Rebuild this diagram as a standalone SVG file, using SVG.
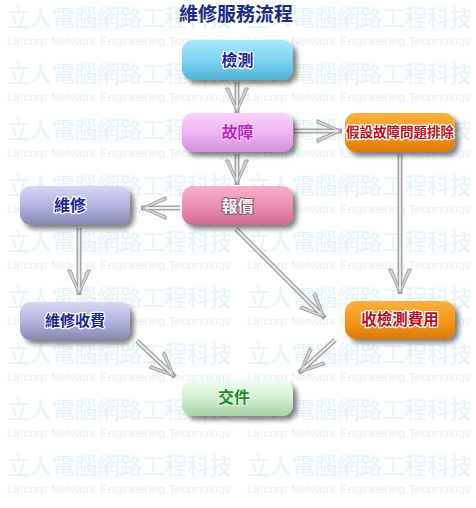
<svg xmlns="http://www.w3.org/2000/svg" width="476" height="508" viewBox="0 0 476 508">
<defs>
<style>
.wz{font-family:"Noto Sans CJK TC","Noto Sans CJK SC",sans-serif;font-size:22.5px;fill:#e4f3f9}
.we{font-family:"Liberation Sans",Arial,sans-serif;font-size:11.5px;fill:#e6eff3}
.title{font-family:"Noto Sans CJK TC","Noto Sans CJK SC",sans-serif;font-size:19px;font-weight:bold;fill:#1c2a82}
.box{filter:url(#sh)}
.lb{font-family:"Noto Sans CJK TC","Noto Sans CJK SC",sans-serif;font-size:16px;font-weight:bold;text-anchor:middle;paint-order:stroke;stroke-width:2.5px;stroke-linejoin:round}
.navy{fill:#1e2590;stroke:#ffffff}
.red{fill:#b81020;stroke:#ffffff}
.mag{fill:#c21ec8;stroke:#fbe6fb;stroke-width:1.5px}
.wht{fill:#fff4f8;stroke:#7a5866;stroke-width:2px}
.grn{fill:#1f8a2a;stroke:#f4fff4;stroke-width:1.5px}
.sa{fill:none;stroke:#a6a6a6;stroke-width:5;marker-end:url(#ah)}
.sb{fill:none;stroke:#efefef;stroke-width:1.8}
</style>
<filter id="sh" x="-20%" y="-30%" width="150%" height="180%">
<feDropShadow dx="4" dy="4" stdDeviation="2.5" flood-color="#000" flood-opacity="0.5"/>
</filter>
<linearGradient id="gCyan" x1="0" y1="0" x2="0" y2="1">
<stop offset="0" stop-color="#a8e8fb"/><stop offset="0.5" stop-color="#7fd3f1"/><stop offset="1" stop-color="#4fb2d6"/>
</linearGradient>
<linearGradient id="gViolet" x1="0" y1="0" x2="0" y2="1">
<stop offset="0" stop-color="#fbd0fb"/><stop offset="0.5" stop-color="#f0b4f4"/><stop offset="1" stop-color="#d48ee0"/>
</linearGradient>
<linearGradient id="gOrange" x1="0" y1="0" x2="0" y2="1">
<stop offset="0" stop-color="#fbb040"/><stop offset="0.5" stop-color="#f59a1c"/><stop offset="1" stop-color="#dc7a06"/>
</linearGradient>
<linearGradient id="gLav" x1="0" y1="0" x2="0" y2="1">
<stop offset="0" stop-color="#d6d6f4"/><stop offset="0.5" stop-color="#b4b4e0"/><stop offset="1" stop-color="#8686b4"/>
</linearGradient>
<linearGradient id="gPink" x1="0" y1="0" x2="0" y2="1">
<stop offset="0" stop-color="#f6b0cc"/><stop offset="0.5" stop-color="#ec90b4"/><stop offset="1" stop-color="#cf6890"/>
</linearGradient>
<linearGradient id="gGreen" x1="0" y1="0" x2="0" y2="1">
<stop offset="0" stop-color="#f2fcf2"/><stop offset="0.5" stop-color="#d4f0d4"/><stop offset="1" stop-color="#a4d4a4"/>
</linearGradient>
<marker id="ah" markerUnits="userSpaceOnUse" viewBox="-27 -13 29 26" refX="0" refY="0" markerWidth="29" markerHeight="26" orient="auto">
<path d="M0,0 L-25,-11.5 L-25,-8 L-5,0 L-25,8 L-25,11.5 Z" fill="#d6d6d6" stroke="#8e8e8e" stroke-width="0.8" stroke-linejoin="round"/>
</marker>
</defs>
<rect width="476" height="508" fill="#ffffff"/>
<g id="watermark">
<g id="wm-zh">
<text class="wz" x="7" y="26">立人電腦網路工程科技</text><text class="wz" x="247" y="26">立人電腦網路工程科技</text>
<text class="wz" x="7" y="82">立人電腦網路工程科技</text><text class="wz" x="247" y="82">立人電腦網路工程科技</text>
<text class="wz" x="7" y="138">立人電腦網路工程科技</text><text class="wz" x="247" y="138">立人電腦網路工程科技</text>
<text class="wz" x="7" y="194">立人電腦網路工程科技</text><text class="wz" x="247" y="194">立人電腦網路工程科技</text>
<text class="wz" x="7" y="250">立人電腦網路工程科技</text><text class="wz" x="247" y="250">立人電腦網路工程科技</text>
<text class="wz" x="7" y="306">立人電腦網路工程科技</text><text class="wz" x="247" y="306">立人電腦網路工程科技</text>
<text class="wz" x="7" y="362">立人電腦網路工程科技</text><text class="wz" x="247" y="362">立人電腦網路工程科技</text>
<text class="wz" x="7" y="418">立人電腦網路工程科技</text><text class="wz" x="247" y="418">立人電腦網路工程科技</text>
<text class="wz" x="7" y="474">立人電腦網路工程科技</text><text class="wz" x="247" y="474">立人電腦網路工程科技</text>
</g>
<g id="wm-en">
<text class="we" x="7" y="45" textLength="224" lengthAdjust="spacingAndGlyphs">Lir.corp Network Engineering Technology</text><text class="we" x="247" y="45" textLength="224" lengthAdjust="spacingAndGlyphs">Lir.corp Network Engineering Technology</text>
<text class="we" x="7" y="101" textLength="224" lengthAdjust="spacingAndGlyphs">Lir.corp Network Engineering Technology</text><text class="we" x="247" y="101" textLength="224" lengthAdjust="spacingAndGlyphs">Lir.corp Network Engineering Technology</text>
<text class="we" x="7" y="157" textLength="224" lengthAdjust="spacingAndGlyphs">Lir.corp Network Engineering Technology</text><text class="we" x="247" y="157" textLength="224" lengthAdjust="spacingAndGlyphs">Lir.corp Network Engineering Technology</text>
<text class="we" x="7" y="213" textLength="224" lengthAdjust="spacingAndGlyphs">Lir.corp Network Engineering Technology</text><text class="we" x="247" y="213" textLength="224" lengthAdjust="spacingAndGlyphs">Lir.corp Network Engineering Technology</text>
<text class="we" x="7" y="269" textLength="224" lengthAdjust="spacingAndGlyphs">Lir.corp Network Engineering Technology</text><text class="we" x="247" y="269" textLength="224" lengthAdjust="spacingAndGlyphs">Lir.corp Network Engineering Technology</text>
<text class="we" x="7" y="325" textLength="224" lengthAdjust="spacingAndGlyphs">Lir.corp Network Engineering Technology</text><text class="we" x="247" y="325" textLength="224" lengthAdjust="spacingAndGlyphs">Lir.corp Network Engineering Technology</text>
<text class="we" x="7" y="381" textLength="224" lengthAdjust="spacingAndGlyphs">Lir.corp Network Engineering Technology</text><text class="we" x="247" y="381" textLength="224" lengthAdjust="spacingAndGlyphs">Lir.corp Network Engineering Technology</text>
<text class="we" x="7" y="437" textLength="224" lengthAdjust="spacingAndGlyphs">Lir.corp Network Engineering Technology</text><text class="we" x="247" y="437" textLength="224" lengthAdjust="spacingAndGlyphs">Lir.corp Network Engineering Technology</text>
<text class="we" x="7" y="493" textLength="224" lengthAdjust="spacingAndGlyphs">Lir.corp Network Engineering Technology</text><text class="we" x="247" y="493" textLength="224" lengthAdjust="spacingAndGlyphs">Lir.corp Network Engineering Technology</text>
</g>
</g>
<text class="title" x="236" y="21" text-anchor="middle">維修服務流程</text>
<g id="connectors">
<path class="sa" d="M237,82 L237,113"/><path class="sb" d="M237,82 L237,108"/>
<path class="sa" d="M237,154 L237,185"/><path class="sb" d="M237,154 L237,180"/>
<path class="sa" d="M294,131 L342,131"/><path class="sb" d="M294,131 L337,131"/>
<path class="sa" d="M180,208 L141,208"/><path class="sb" d="M180,208 L146,208"/>
<path class="sa" d="M79,228 L79,295"/><path class="sb" d="M79,228 L79,290"/>
<path class="sa" d="M236,229 L325,318"/><path class="sb" d="M236,229 L321,314"/>
<path class="sa" d="M400,154 L400,294"/><path class="sb" d="M400,154 L400,289"/>
<path class="sa" d="M137,341 L175,377"/><path class="sb" d="M137,341 L171,373"/>
<path class="sa" d="M335,340 L299,373"/><path class="sb" d="M335,340 L303,369"/>
</g>
<g id="n-jiance">
<rect class="box" x="182" y="40" width="111" height="40" rx="11" fill="url(#gCyan)"/>
<text class="lb navy" x="237.5" y="66">檢測</text>
</g>
<g id="n-guzhang">
<rect class="box" x="182" y="113" width="111" height="39" rx="11" fill="url(#gViolet)"/>
<text class="lb mag" x="237.5" y="138">故障</text>
</g>
<g id="n-jiashe">
<rect class="box" x="345" y="113" width="110" height="39" rx="11" fill="url(#gOrange)"/>
<text class="lb red" x="400" y="137" style="font-size:13.5px">假設故障問題排除</text>
</g>
<g id="n-weixiu">
<rect class="box" x="20" y="186" width="110" height="39" rx="11" fill="url(#gLav)"/>
<text class="lb navy" x="70" y="211">維修</text>
</g>
<g id="n-baojia">
<rect class="box" x="182" y="186" width="111" height="39" rx="11" fill="url(#gPink)"/>
<text class="lb wht" x="237.5" y="212">報價</text>
</g>
<g id="n-weixiushoufei">
<rect class="box" x="20" y="302" width="110" height="38" rx="11" fill="url(#gLav)"/>
<text class="lb navy" x="75" y="326" style="font-size:15px">維修收費</text>
</g>
<g id="n-shoujiance">
<rect class="box" x="345" y="301" width="110" height="38" rx="11" fill="url(#gOrange)"/>
<text class="lb red" x="400" y="325" style="font-size:15.5px">收檢測費用</text>
</g>
<g id="n-jiaojian">
<rect class="box" x="182" y="380" width="111" height="36" rx="11" fill="url(#gGreen)"/>
<text class="lb grn" x="234" y="403">交件</text>
</g>
</svg>
